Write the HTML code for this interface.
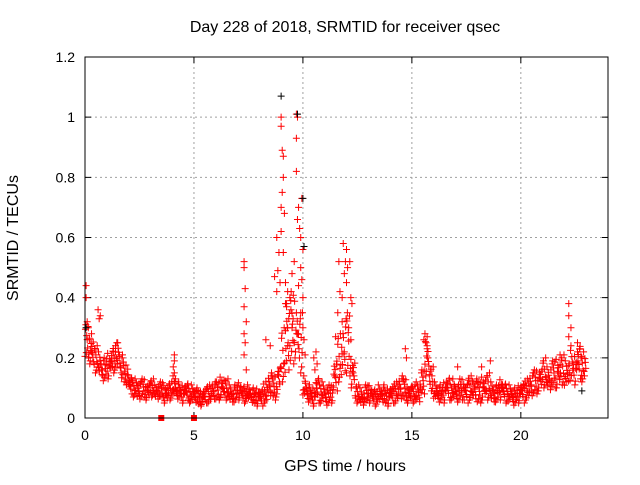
<!DOCTYPE html>
<html><head><meta charset="utf-8"><style>
html,body{margin:0;padding:0;background:#fff;}
svg text{font-family:"Liberation Sans",sans-serif;font-size:14px;fill:#000;}
svg text.big{font-size:16px;}
</style></head><body>
<svg id="chart" width="640" height="480" xmlns="http://www.w3.org/2000/svg">
<text class="big" x="345" y="32" text-anchor="middle">Day 228 of 2018, SRMTID for receiver qsec</text>
<text class="big" x="345" y="471" text-anchor="middle">GPS time / hours</text>
<text class="big" transform="translate(18,238) rotate(-90)" text-anchor="middle">SRMTID / TECUs</text>
<g id="grid"></g><g id="ticks"></g><g id="marks"></g>
<rect x="85" y="57" width="523" height="361" fill="none" stroke="#000" stroke-width="1"/>
</svg>
<script>
const xTicks=[0,5,10,15,20];
const yTicks=[0,0.2,0.4,0.6,0.8,1.0,1.2];
const yTickLabels=["0","0.2","0.4","0.6","0.8","1","1.2"];
const step=0.2;
const lo=[.20,.18,.15,.14,.12,.13,.15,.16,.13,.11,.08,.07,.06,.07,.06,.07,.06,.07,.05,.06,.07,.06,.05,.06,.05,.05,.04,.05,.05,.06,.06,.07,.06,.05,.05,.06,.05,.06,.05,.04,.04,.05,.07,.06,.08,.12,.15,.18,.20,.15,.07,.05,.04,.05,.05,.04,.05,.09,.12,.15,.14,.10,.05,.04,.05,.05,.04,.05,.05,.04,.05,.05,.06,.06,.05,.05,.05,.08,.14,.09,.06,.05,.05,.06,.06,.05,.06,.05,.06,.06,.05,.06,.06,.05,.05,.06,.05,.05,.04,.05,.05,.06,.07,.08,.09,.10,.09,.10,.10,.11,.10,.12,.11,.13,.12];
const mid=[.25,.22,.20,.18,.16,.17,.19,.21,.17,.14,.11,.10,.09,.10,.09,.10,.09,.09,.08,.09,.10,.09,.08,.09,.08,.07,.06,.07,.08,.09,.09,.10,.09,.08,.08,.09,.08,.08,.07,.07,.07,.08,.11,.10,.14,.20,.25,.30,.28,.24,.10,.08,.07,.10,.09,.07,.08,.14,.18,.22,.24,.15,.08,.07,.08,.08,.07,.08,.08,.07,.08,.09,.10,.10,.08,.08,.09,.12,.20,.13,.09,.08,.09,.10,.09,.08,.10,.09,.10,.10,.09,.10,.11,.09,.08,.10,.09,.08,.07,.08,.09,.10,.11,.12,.13,.15,.13,.15,.15,.16,.15,.18,.16,.19,.17];
const hi=[.31,.27,.24,.22,.20,.22,.24,.25,.21,.18,.14,.13,.12,.13,.12,.13,.11,.12,.11,.12,.14,.12,.11,.12,.11,.10,.09,.10,.11,.12,.12,.14,.13,.11,.11,.12,.11,.11,.10,.10,.10,.12,.15,.14,.18,.30,.38,.42,.40,.35,.14,.11,.10,.14,.12,.10,.11,.20,.28,.33,.35,.20,.11,.10,.11,.11,.10,.11,.11,.10,.11,.12,.14,.13,.11,.11,.12,.16,.26,.17,.12,.11,.12,.14,.13,.11,.13,.12,.14,.13,.12,.14,.15,.12,.11,.13,.12,.11,.10,.11,.12,.13,.15,.16,.17,.20,.17,.19,.20,.21,.19,.24,.21,.25,.22];
const spikeT=[0.05,0.05,0.1,0.3,0.6,0.7,1.5,4.1,4.1,7.3,7.3,7.35,7.3,7.4,7.3,7.35,7.3,7.4,8.3,8.5,8.8,8.9,8.85,9.0,9.0,9.05,9.1,9.1,9.05,9.0,9.15,9.0,9.1,9.2,9.3,9.25,9.4,9.35,9.5,9.5,9.6,9.7,9.75,9.7,9.7,9.8,9.75,9.85,9.9,9.95,10.0,9.9,9.95,9.8,10.0,9.9,10.0,10.05,10.1,8.7,9.3,9.6,10.6,10.5,11.6,11.7,11.8,11.9,11.95,12.0,12.05,12.0,11.8,12.2,12.1,12.2,11.5,14.7,15.6,15.7,15.65,17.1,18.2,18.6,21.8,22.2,22.2,22.3,22.2,22.6,22.7,22.8,4.05,4.1,4.15,0.15,0.2,0.65,1.4,1.3,10.65,10.55,14.75,15.55,15.7,9.45,9.55,9.2,9.25,8.95,8.8,11.65,11.85,12.15,12.25];
const spikeV=[.44,.40,.32,.28,.36,.34,.25,.21,.19,.52,.50,.43,.37,.32,.28,.25,.21,.16,.26,.24,.60,.55,.49,1.0,.97,.89,.87,.80,.75,.70,.68,.62,.55,.45,.42,.38,.40,.33,.48,.30,.52,1.01,1.0,.93,.82,.70,.66,.63,.60,.73,.56,.50,.46,.44,.40,.35,.30,.26,.21,.47,.30,.25,.22,.20,.35,.42,.40,.48,.52,.56,.50,.45,.32,.40,.30,.26,.27,.23,.28,.27,.25,.17,.17,.19,.21,.38,.34,.30,.27,.25,.23,.20,.17,.15,.13,.30,.26,.33,.24,.22,.18,.16,.20,.26,.24,.36,.33,.29,.37,.45,.42,.52,.58,.52,.38];
const blackT=[9.0,9.75,10.0,10.05,0.05,22.8];
const blackV=[1.07,1.01,.73,.57,.30,.09];
const zeroT=[3.5,5.0];

const X0=85,X1=608,Y0=418,Y1=57,XMAX=24,YMAX=1.2;
const xs=t=>X0+t/XMAX*(X1-X0);
const ys=v=>Y0-v/YMAX*(Y0-Y1);
const NS="http://www.w3.org/2000/svg";
const grid=document.getElementById('grid'),ticks=document.getElementById('ticks'),marks=document.getElementById('marks');
function mk(tag,attrs,parent){const e=document.createElementNS(NS,tag);for(const k in attrs)e.setAttribute(k,attrs[k]);parent.appendChild(e);return e;}
xTicks.forEach(t=>{
  const x=xs(t);
  if(t>0){const g=mk('line',{x1:x,x2:x,y1:Y1,y2:Y0,stroke:'#a0a0a0','stroke-dasharray':'2,3'},grid);
  
  }
  const tk=mk('path',{d:`M${x},${Y0}v-6M${x},${Y1}v6`,stroke:'#000'},ticks);
  
  
  const l=mk('text',{x:x,y:Y0+22,'text-anchor':'middle'},ticks);l.textContent=t;
  
  
});
yTicks.forEach((v,i)=>{
  const y=ys(v);
  if(v>0&&v<1.2){const g=mk('line',{x1:X0,x2:X1,y1:y,y2:y,stroke:'#a0a0a0','stroke-dasharray':'2,3'},grid);
  
  }
  const tk=mk('path',{d:`M${X0},${y}h6M${X1},${y}h-6`,stroke:'#000'},ticks);
  
  
  const l=mk('text',{x:X0-10,y:y+5,'text-anchor':'end'},ticks);l.textContent=yTickLabels[i];
  
  
});
function plus(t,v,color,name){
  const x=xs(t),y=ys(v);
  const p=mk('path',{d:`M${x-3.5},${y}h7M${x},${y-3.5}v7`,stroke:color,'stroke-width':1,fill:'none'},marks);
  
  
}
// deterministic placement pattern inside each band interval (style, not data)
const frac=[0.1,0.9,0.4,0.75,0.0,0.55,1.0,0.25,0.65,0.35];
const bands=[[lo,mid],[mid,hi],[lo,hi]];
lo.forEach((_,i)=>{
  const n=frac.length;
  for(let k=0;k<n;k++){
    const b=bands[(i+k)%3];
    const a=b[0][i],c=b[1][i];
    const f=frac[(k*3+i)%n];
    plus(i*step+k*step/n,a+(c-a)*f,'#ff0000','srmtid-point');
  }
});
spikeT.forEach((t,i)=>plus(t,spikeV[i],'#ff0000','srmtid-spike-point'));
blackT.forEach((t,i)=>plus(t,blackV[i],'#000000','srmtid-all-point'));
zeroT.forEach(t=>{
  const r=mk('rect',{x:xs(t)-3,y:Y0-3,width:6,height:6,fill:'#ff0000'},marks);
  
  
});
</script>
</body></html>
